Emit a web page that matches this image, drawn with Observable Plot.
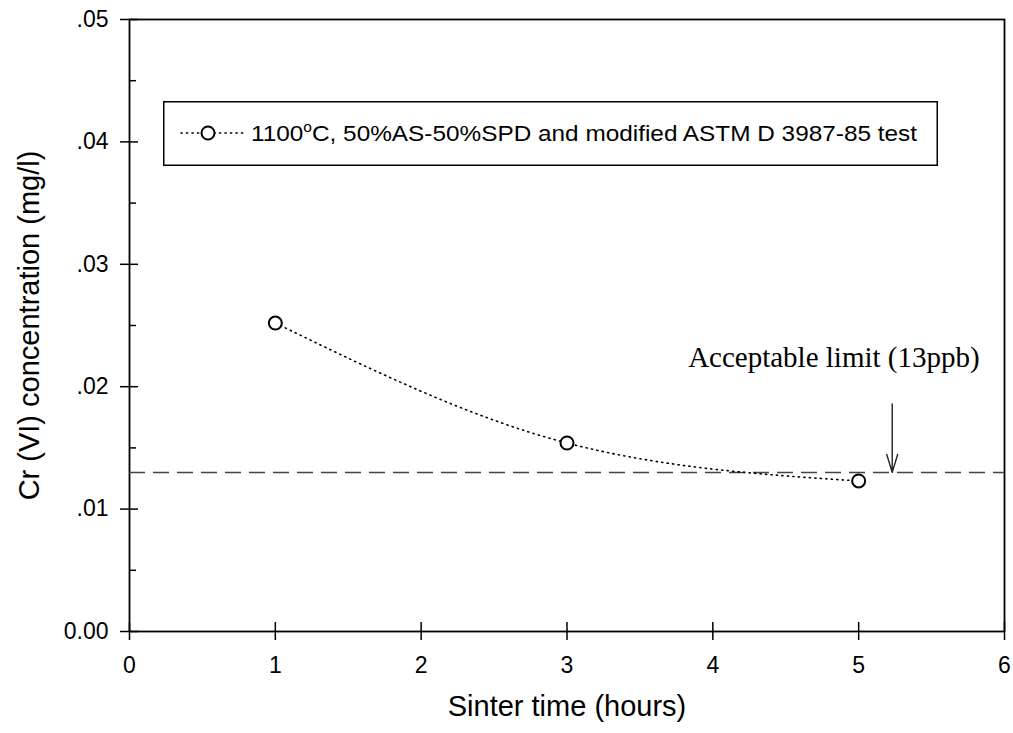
<!DOCTYPE html>
<html>
<head>
<meta charset="utf-8">
<script src="https://cdn.jsdelivr.net/npm/d3@7"></script>
<script src="https://cdn.jsdelivr.net/npm/@observablehq/plot@0.6"></script>
<style>
  html, body { margin: 0; padding: 0; background: white; }
  #wrap { position: relative; width: 1013px; height: 733px; }
  #legend { position: absolute; left: 163px; top: 101px; }
</style>
</head>
<body>
<div id="wrap"></div>
<script>
// ---- data ----
const sinterTime = [1, 3, 5];                       // hours
const crConcentration = [0.0252, 0.0154, 0.0123];  // mg/l
const acceptableLimit = 0.013;                      // mg/l (13 ppb)
const xTicks = [0, 1, 2, 3, 4, 5, 6];
const yMajorTicks = [0, 0.01, 0.02, 0.03, 0.04, 0.05];
const yMinorTicks = [0.005, 0.015, 0.025, 0.035, 0.045];
const seriesLabel = "1100°C, 50%AS-50%SPD and modified ASTM D 3987-85 test";
const xTitle = "Sinter time (hours)";
const yTitle = "Cr (VI) concentration (mg/l)";
const limitText = "Acceptable limit (13ppb)";
// annotation anchor (data units)
const arrowX = 5.23, arrowTopY = 0.0186, limitTextX = 4.83, limitTextY = 0.0224;

const points = sinterTime.map((t, i) => ({t, c: crConcentration[i]}));
const yFmt = d => d === 0 ? "0.00" : d3.format(".2f")(d).replace(/^0/, "");

const chart = Plot.plot({
  width: 1013,
  height: 733,
  marginLeft: 129,
  marginRight: 9,
  marginTop: 19,
  marginBottom: 102,
  style: {background: "white", fontFamily: "'Liberation Sans', Arial, sans-serif", overflow: "visible"},
  x: {domain: [0, 6]},
  y: {domain: [0, 0.05]},
  marks: [
    Plot.frame({stroke: "black", strokeWidth: 1.8}),
    Plot.axisY({ticks: yMajorTicks, tickSize: 18, dx: 9, tickPadding: 12, tickFormat: yFmt,
      fontSize: 23, label: null, stroke: "black", strokeWidth: 1.5, fill: "black"}),
    Plot.axisY({ticks: yMinorTicks, tickSize: 7, dx: 7, tickFormat: () => "", label: null,
      stroke: "black", strokeWidth: 1.5}),
    Plot.axisX({ticks: xTicks, tickSize: 18, dy: -9, tickPadding: 16, tickFormat: d3.format("d"),
      fontSize: 23, label: null, stroke: "black", strokeWidth: 1.5, fill: "black"}),
    Plot.ruleY([acceptableLimit], {stroke: "#444", strokeWidth: 1.5, strokeDasharray: "16,8"}),
    Plot.line(points, {x: "t", y: "c", curve: "monotone-x", stroke: "black", strokeWidth: 1.6,
      strokeDasharray: "1.2,4.3", strokeLinecap: "round"}),
    Plot.dot(points, {x: "t", y: "c", r: 6.5, stroke: "black", strokeWidth: 2, fill: "white"}),
    Plot.arrow([{x: arrowX, y1: arrowTopY, y2: acceptableLimit}], {
      x: "x", y1: "y1", y2: "y2", stroke: "#222", strokeWidth: 1.4, headLength: 20, headAngle: 34}),
    Plot.text([limitText], {x: limitTextX, y: limitTextY, fontFamily: "'Liberation Serif', 'Times New Roman', serif",
      fontSize: 29, fill: "black"}),
    Plot.text([xTitle], {frameAnchor: "bottom", dy: 84, fontSize: 29, fill: "black"}),
    Plot.text([yTitle], {frameAnchor: "left", textAnchor: "middle", rotate: -90, dx: -100, fontSize: 29, fill: "black"})
  ]
});

const wrap = document.getElementById("wrap");
wrap.appendChild(chart);

// legend box
const leg = d3.create("svg").attr("id", "legend").attr("width", 775).attr("height", 65)
  .style("font-family", "'Liberation Sans', Arial, sans-serif");
leg.append("rect").attr("x", 0.75).attr("y", 0.75).attr("width", 773.5).attr("height", 63.5)
  .attr("fill", "white").attr("stroke", "black").attr("stroke-width", 1.5);
leg.append("line").attr("x1", 18).attr("x2", 80).attr("y1", 32).attr("y2", 32)
  .attr("stroke", "black").attr("stroke-width", 1.6).attr("stroke-dasharray", "1.2,4.3").attr("stroke-linecap", "round");
leg.append("circle").attr("cx", 45).attr("cy", 32).attr("r", 6.5)
  .attr("fill", "white").attr("stroke", "black").attr("stroke-width", 2);
const t = leg.append("text").attr("x", 88).attr("y", 40).attr("font-size", 22).attr("fill", "black")
  .attr("textLength", 666).attr("lengthAdjust", "spacingAndGlyphs");
t.append("tspan").text("1100");
t.append("tspan").attr("font-size", 14).attr("dy", -9).text("o");
t.append("tspan").attr("dy", 9).text("C, 50%AS-50%SPD and modified ASTM D 3987-85 test");
wrap.appendChild(leg.node());
</script>
</body>
</html>
